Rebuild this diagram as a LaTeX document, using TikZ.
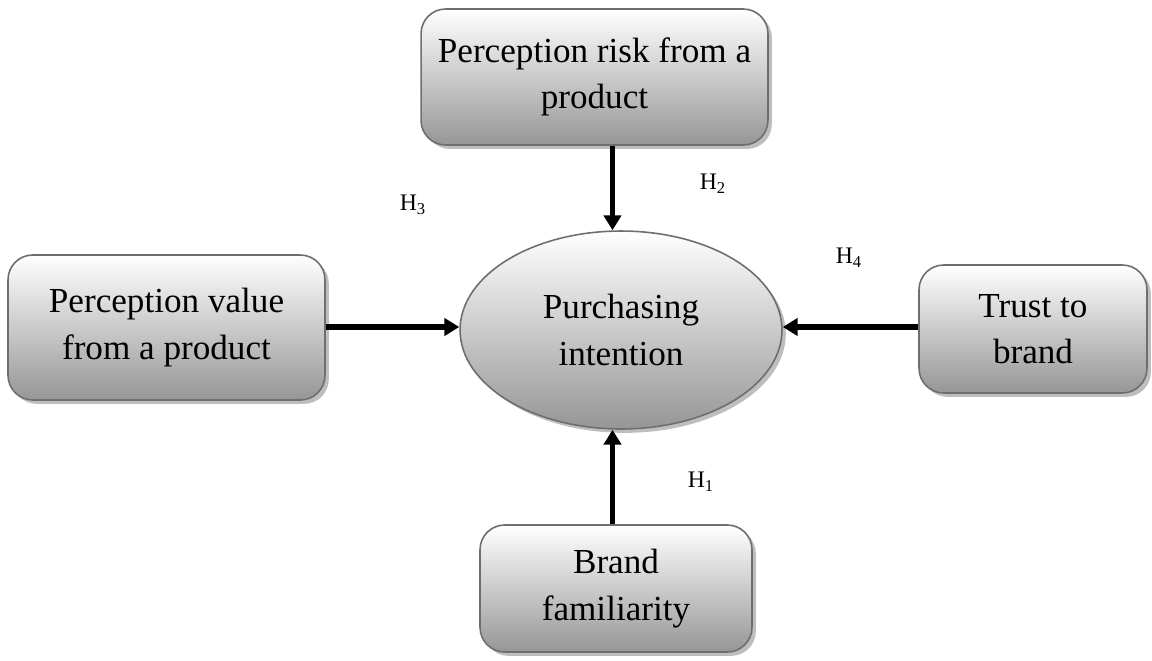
\documentclass[tikz,border=0pt]{standalone}
\usepackage{fontspec}
\setmainfont{Liberation Serif}
\usetikzlibrary{shapes.geometric,shadows,arrows.meta}
\begin{document}
\begin{tikzpicture}[x=0.02cm,y=-0.02cm,
  shade box/.style={draw={rgb,255:red,110;green,110;blue,110}, line width=0.9pt,
    top color=white, bottom color={rgb,255:red,150;green,150;blue,150},
    drop shadow={shadow xshift=2.2pt, shadow yshift=-2.2pt, fill={rgb,255:red,190;green,190;blue,190}, opacity=1},
    align=center, inner sep=0pt, font=\fontsize{20}{26.5}\selectfont},
  rbox/.style={shade box, rectangle, rounded corners=14pt},
  ebox/.style={shade box, ellipse},
  arr/.style={line width=3.2pt, -{Triangle[length=8.5pt,width=9.8pt]}},
  hlab/.style={font=\fontsize{13.5}{15}\selectfont, inner sep=0pt}]
\useasboundingbox (0,0) rectangle (1152,660);
\node[rbox, minimum width=6.94cm, minimum height=2.72cm] (risk) at (594.5,77) {Perception risk from a\\product};
\node[rbox, minimum width=6.34cm, minimum height=2.9cm] (value) at (166.5,327.5) {Perception value\\from a product};
\node[rbox, minimum width=4.56cm, minimum height=2.56cm] (trust) at (1033,329) {Trust to\\brand};
\node[rbox, minimum width=5.44cm, minimum height=2.54cm] (fam) at (616,588.5) {Brand\\familiarity};
\node[ebox, minimum width=6.44cm, minimum height=3.96cm] (pi) at (621,330) {Purchasing\\intention};
\coordinate (ax) at (612.5,0);
\coordinate (ay) at (0,327);
\draw[arr] (risk.south -| ax) -- (pi.north -| ax);
\draw[arr] (fam.north -| ax) -- (pi.south -| ax);
\draw[arr] (value.east |- ay) -- (pi.west |- ay);
\draw[arr] (trust.west |- ay) -- (pi.east |- ay);
\node[hlab] (h3) at (413,205) {H\textsubscript{3}};
\node[hlab] (h2) at (713,184) {H\textsubscript{2}};
\node[hlab] (h4) at (849,258) {H\textsubscript{4}};
\node[hlab] (h1) at (701,482) {H\textsubscript{1}};
\end{tikzpicture}
\end{document}
